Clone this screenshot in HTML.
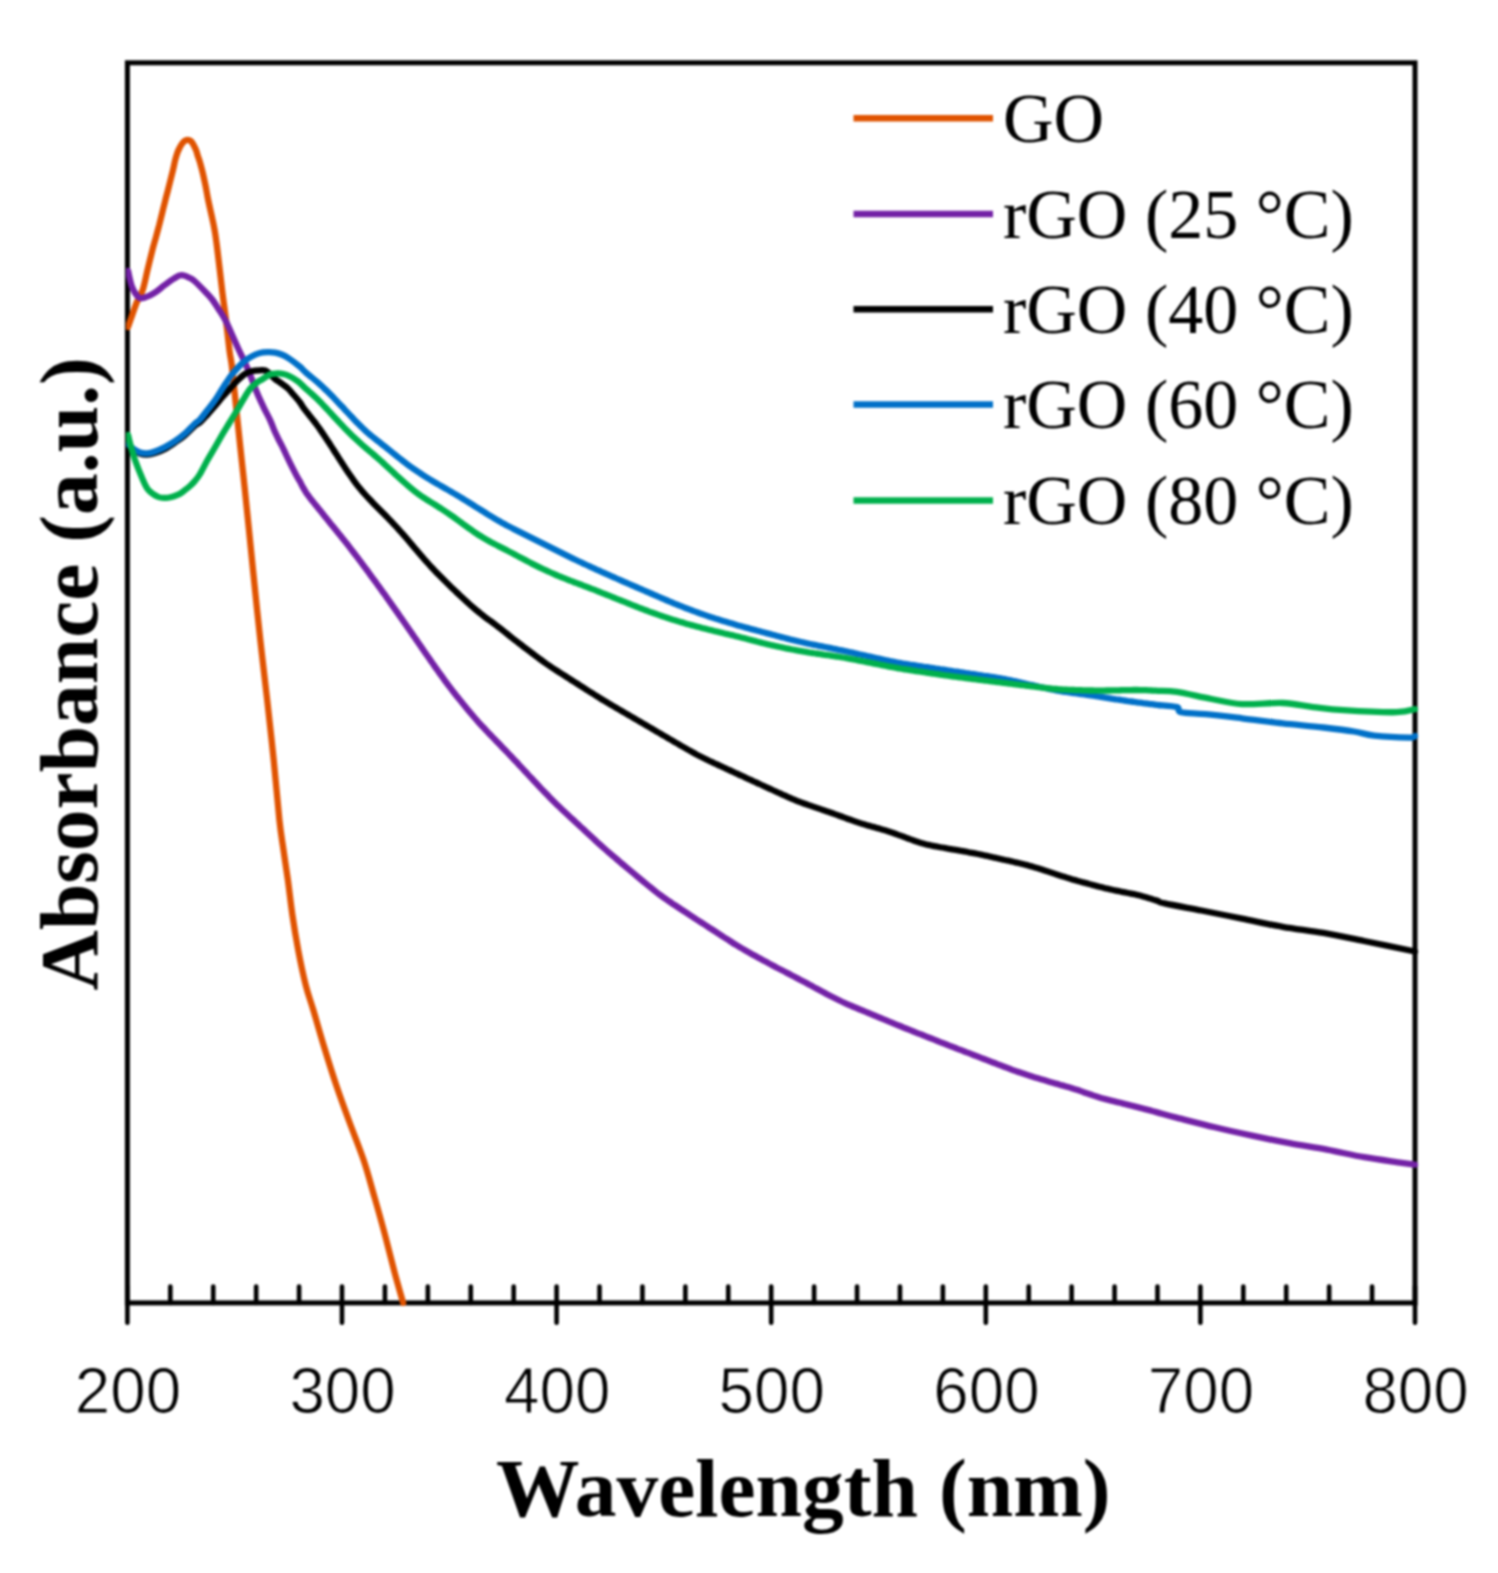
<!DOCTYPE html>
<html><head><meta charset="utf-8"><style>
html,body{margin:0;padding:0;background:#fff;}
body{width:1498px;height:1573px;overflow:hidden;}
svg{display:block;filter:blur(0.9px);}
</style></head><body>
<svg width="1498" height="1573" viewBox="0 0 1498 1573">
<rect x="0" y="0" width="1498" height="1573" fill="#fff"/>
<defs><clipPath id="pc"><rect x="126" y="60" width="1294" height="1246"/></clipPath></defs>
<g stroke="#000" fill="none">
<rect x="127.4" y="62.8" width="1287.6" height="1240.1000000000001" stroke-width="5.0"/>
</g>
<g stroke="#000" stroke-width="4.6" stroke-linecap="round" fill="none">
<line x1="127.40" y1="1286.5" x2="127.40" y2="1322.8" />
<line x1="170.32" y1="1286.5" x2="170.32" y2="1302.9" />
<line x1="213.24" y1="1286.5" x2="213.24" y2="1302.9" />
<line x1="256.16" y1="1286.5" x2="256.16" y2="1302.9" />
<line x1="299.08" y1="1286.5" x2="299.08" y2="1302.9" />
<line x1="342.00" y1="1286.5" x2="342.00" y2="1322.8" />
<line x1="384.92" y1="1286.5" x2="384.92" y2="1302.9" />
<line x1="427.84" y1="1286.5" x2="427.84" y2="1302.9" />
<line x1="470.76" y1="1286.5" x2="470.76" y2="1302.9" />
<line x1="513.68" y1="1286.5" x2="513.68" y2="1302.9" />
<line x1="556.60" y1="1286.5" x2="556.60" y2="1322.8" />
<line x1="599.52" y1="1286.5" x2="599.52" y2="1302.9" />
<line x1="642.44" y1="1286.5" x2="642.44" y2="1302.9" />
<line x1="685.36" y1="1286.5" x2="685.36" y2="1302.9" />
<line x1="728.28" y1="1286.5" x2="728.28" y2="1302.9" />
<line x1="771.20" y1="1286.5" x2="771.20" y2="1322.8" />
<line x1="814.12" y1="1286.5" x2="814.12" y2="1302.9" />
<line x1="857.04" y1="1286.5" x2="857.04" y2="1302.9" />
<line x1="899.96" y1="1286.5" x2="899.96" y2="1302.9" />
<line x1="942.88" y1="1286.5" x2="942.88" y2="1302.9" />
<line x1="985.80" y1="1286.5" x2="985.80" y2="1322.8" />
<line x1="1028.72" y1="1286.5" x2="1028.72" y2="1302.9" />
<line x1="1071.64" y1="1286.5" x2="1071.64" y2="1302.9" />
<line x1="1114.56" y1="1286.5" x2="1114.56" y2="1302.9" />
<line x1="1157.48" y1="1286.5" x2="1157.48" y2="1302.9" />
<line x1="1200.40" y1="1286.5" x2="1200.40" y2="1322.8" />
<line x1="1243.32" y1="1286.5" x2="1243.32" y2="1302.9" />
<line x1="1286.24" y1="1286.5" x2="1286.24" y2="1302.9" />
<line x1="1329.16" y1="1286.5" x2="1329.16" y2="1302.9" />
<line x1="1372.08" y1="1286.5" x2="1372.08" y2="1302.9" />
<line x1="1415.00" y1="1286.5" x2="1415.00" y2="1322.8" />
</g>
<g fill="none" stroke-width="6.3" stroke-linejoin="round" stroke-linecap="round" clip-path="url(#pc)">
<path d="M128.0,327.0 C128.5,325.6 129.6,322.5 131.0,318.5 C132.4,314.5 134.6,307.8 136.5,303.0 C138.4,298.2 140.9,295.5 142.7,290.0 C144.5,284.5 145.9,276.7 147.5,270.0 C149.1,263.3 151.0,255.5 152.4,250.0 C153.8,244.5 154.9,241.2 156.0,237.0 C157.1,232.8 158.1,229.1 159.2,225.0 C160.2,220.9 161.3,216.7 162.3,212.5 C163.3,208.3 164.5,203.8 165.4,200.0 C166.3,196.2 167.2,193.3 168.0,190.0 C168.8,186.7 169.7,183.3 170.5,180.0 C171.3,176.7 172.2,173.3 173.0,170.0 C173.8,166.7 174.5,162.8 175.2,160.0 C175.9,157.2 176.7,154.8 177.3,153.0 C177.9,151.2 178.3,150.4 179.0,149.0 C179.7,147.6 180.6,145.8 181.5,144.5 C182.4,143.2 183.2,142.0 184.2,141.2 C185.2,140.4 186.5,139.8 187.6,139.8 C188.7,139.8 189.8,140.2 190.8,141.0 C191.8,141.8 192.6,143.3 193.5,144.8 C194.4,146.3 195.2,148.1 196.0,150.0 C196.8,151.9 197.3,154.4 198.0,156.5 C198.7,158.6 199.2,159.6 200.0,162.5 C200.8,165.4 202.1,170.1 203.0,174.0 C203.9,177.9 204.7,181.7 205.6,186.0 C206.5,190.3 207.2,195.2 208.2,200.0 C209.2,204.8 210.4,210.0 211.5,215.0 C212.6,220.0 213.6,224.2 214.6,230.0 C215.6,235.8 216.2,240.0 217.4,250.0 C218.7,260.0 220.7,278.3 222.1,290.0 C223.5,301.7 224.8,310.0 226.0,320.0 C227.2,330.0 228.5,342.7 229.4,350.0 C230.3,357.3 230.8,357.9 231.6,364.0 C232.4,370.1 233.2,379.6 234.0,386.7 C234.8,393.8 235.3,399.6 236.1,406.8 C236.8,414.0 237.5,420.6 238.5,430.0 C239.5,439.4 240.9,453.0 242.0,463.0 C243.1,473.0 243.4,475.5 244.9,490.0 C246.4,504.5 249.0,530.0 251.0,550.0 C253.0,570.0 255.3,592.5 257.1,610.0 C258.9,627.5 260.3,640.0 262.0,655.0 C263.7,670.0 265.2,682.5 267.2,700.0 C269.1,717.5 271.7,740.0 273.7,760.0 C275.7,780.0 277.8,805.0 279.4,820.0 C281.0,835.0 282.1,840.0 283.5,850.0 C284.9,860.0 286.4,869.2 287.9,880.0 C289.4,890.8 290.7,903.3 292.4,915.0 C294.1,926.7 296.0,938.3 298.2,950.0 C300.4,961.7 303.2,975.0 305.7,985.0 C308.2,995.0 310.2,999.6 313.3,1010.0 C316.4,1020.4 320.5,1035.0 324.3,1047.5 C328.1,1060.0 332.0,1072.5 336.2,1085.0 C340.4,1097.5 345.0,1110.0 349.6,1122.5 C354.2,1135.0 359.4,1147.5 363.6,1160.0 C367.8,1172.5 371.0,1185.0 374.6,1197.5 C378.2,1210.0 381.7,1222.5 385.0,1235.0 C388.3,1247.5 391.6,1261.2 394.6,1272.5 C397.6,1283.8 401.8,1297.9 403.2,1303.0" stroke="#E05300"/>
<path d="M128.0,270.9 C128.7,273.6 130.4,282.7 132.0,286.9 C133.6,291.1 135.7,294.3 137.4,296.2 C139.1,298.1 139.3,298.6 142.0,298.2 C144.7,297.8 149.7,295.7 153.4,293.6 C157.1,291.5 160.7,288.1 164.0,285.6 C167.3,283.2 170.5,280.6 173.4,278.9 C176.3,277.2 178.5,275.3 181.4,275.2 C184.3,275.1 188.5,277.4 190.8,278.5 C193.1,279.6 192.6,279.3 195.0,281.5 C197.4,283.7 202.2,288.6 205.0,291.5 C207.8,294.4 209.6,296.1 211.8,299.0 C214.1,301.9 216.3,305.6 218.5,309.0 C220.7,312.4 222.8,315.4 225.0,319.5 C227.2,323.6 229.3,328.7 231.5,333.5 C233.7,338.3 236.1,344.0 238.2,348.5 C240.3,353.0 242.0,356.2 244.0,360.5 C246.0,364.8 247.9,369.2 250.0,374.5 C252.1,379.8 254.5,386.6 256.7,392.0 C258.9,397.4 261.2,402.1 263.4,406.8 C265.6,411.5 268.3,416.2 270.1,420.1 C271.9,424.0 272.8,427.0 274.1,430.0 C275.4,433.0 276.7,435.6 278.0,438.3 C279.3,441.0 280.7,443.3 282.0,446.0 C283.3,448.7 284.7,451.7 286.0,454.5 C287.3,457.3 288.0,458.8 290.0,462.8 C292.0,466.8 296.3,475.2 298.0,478.3 C299.7,481.4 299.2,480.1 300.0,481.6 C300.8,483.1 302.0,485.6 303.0,487.4 C304.0,489.2 305.0,490.8 306.0,492.4 C307.0,493.9 308.0,495.2 309.0,496.6 C310.0,497.9 311.0,499.2 312.0,500.5 C313.0,501.7 314.0,503.0 315.0,504.2 C316.0,505.4 317.0,506.7 318.0,507.9 C319.0,509.1 320.0,510.4 321.0,511.6 C322.0,512.9 323.0,514.1 324.0,515.4 C325.0,516.6 326.0,517.9 327.0,519.1 C328.0,520.4 329.0,521.6 330.0,522.9 C331.0,524.1 332.0,525.3 333.0,526.5 C334.0,527.8 335.0,529.0 336.0,530.2 C337.0,531.5 338.0,532.7 339.0,533.9 C340.0,535.2 341.0,536.4 342.0,537.7 C343.0,538.9 344.0,540.2 345.0,541.4 C346.0,542.7 347.0,543.9 348.0,545.2 C349.0,546.5 350.0,547.8 351.0,549.1 C352.0,550.4 353.0,551.7 354.0,553.0 C355.0,554.3 356.0,555.6 357.0,556.9 C358.0,558.2 359.0,559.6 360.0,560.9 C361.0,562.2 362.0,563.6 363.0,564.9 C364.0,566.3 365.0,567.6 366.0,568.9 C367.0,570.3 368.0,571.6 369.0,573.0 C370.0,574.4 371.0,575.7 372.0,577.1 C373.0,578.4 374.0,579.8 375.0,581.2 C376.0,582.6 377.0,583.9 378.0,585.3 C379.0,586.7 380.0,588.1 381.0,589.5 C382.0,590.9 383.0,592.2 384.0,593.6 C385.0,595.1 386.0,596.5 387.0,597.9 C388.0,599.3 389.0,600.7 390.0,602.1 C391.0,603.5 392.0,604.9 393.0,606.4 C394.0,607.8 395.0,609.2 396.0,610.7 C397.0,612.1 398.0,613.5 399.0,614.9 C400.0,616.4 401.0,617.8 402.0,619.2 C403.0,620.7 404.0,622.1 405.0,623.5 C406.0,625.0 407.0,626.4 408.0,627.8 C409.0,629.3 410.0,630.7 411.0,632.2 C412.0,633.6 413.0,635.1 414.0,636.5 C415.0,637.9 416.0,639.4 417.0,640.8 C418.0,642.3 419.0,643.7 420.0,645.2 C421.0,646.6 422.0,648.1 423.0,649.5 C424.0,651.0 425.0,652.4 426.0,653.9 C427.0,655.3 428.0,656.8 429.0,658.2 C430.0,659.6 431.0,661.1 432.0,662.5 C433.0,663.9 434.0,665.4 435.0,666.8 C436.0,668.2 437.0,669.6 438.0,671.0 C439.0,672.4 440.0,673.8 441.0,675.2 C442.0,676.6 443.0,678.0 444.0,679.3 C445.0,680.7 446.0,682.1 447.0,683.4 C448.0,684.8 449.0,686.1 450.0,687.4 C451.0,688.7 452.0,690.0 453.0,691.3 C454.0,692.6 455.0,693.9 456.0,695.2 C457.0,696.4 458.0,697.7 459.0,698.9 C460.0,700.2 461.0,701.4 462.0,702.6 C463.0,703.9 464.0,705.1 465.0,706.3 C466.0,707.5 467.0,708.7 468.0,709.9 C469.0,711.1 470.0,712.3 471.0,713.5 C472.0,714.7 473.0,715.8 474.0,717.0 C475.0,718.1 476.0,719.3 477.0,720.4 C478.0,721.6 479.0,722.7 480.0,723.8 C481.0,724.9 482.0,726.0 483.0,727.1 C484.0,728.1 485.0,729.2 486.0,730.3 C487.0,731.3 488.0,732.4 489.0,733.4 C490.0,734.5 491.0,735.5 492.0,736.5 C493.0,737.6 494.0,738.6 495.0,739.6 C496.0,740.7 497.0,741.7 498.0,742.7 C499.0,743.8 500.0,744.8 501.0,745.8 C502.0,746.9 503.0,747.9 504.0,748.9 C505.0,750.0 506.0,751.0 507.0,752.0 C508.0,753.1 509.0,754.1 510.0,755.2 C511.0,756.2 512.0,757.3 513.0,758.4 C514.0,759.4 515.0,760.5 516.0,761.6 C517.0,762.6 518.0,763.7 519.0,764.8 C520.0,765.9 521.0,766.9 522.0,768.0 C523.0,769.1 524.0,770.2 525.0,771.3 C526.0,772.3 527.0,773.4 528.0,774.5 C529.0,775.6 530.0,776.6 531.0,777.7 C532.0,778.8 533.0,779.9 534.0,780.9 C535.0,782.0 536.0,783.1 537.0,784.1 C538.0,785.2 539.0,786.3 540.0,787.3 C541.0,788.4 542.0,789.4 543.0,790.5 C544.0,791.5 545.0,792.5 546.0,793.6 C547.0,794.6 548.0,795.6 549.0,796.7 C550.0,797.7 551.0,798.7 552.0,799.7 C553.0,800.7 554.0,801.7 555.0,802.7 C556.0,803.7 557.0,804.7 558.0,805.7 C559.0,806.6 560.0,807.6 561.0,808.6 C562.0,809.5 563.0,810.5 564.0,811.4 C565.0,812.3 566.0,813.3 567.0,814.2 C568.0,815.1 569.0,816.0 570.0,817.0 C571.0,817.9 572.0,818.8 573.0,819.7 C574.0,820.6 575.0,821.6 576.0,822.5 C577.0,823.4 578.0,824.3 579.0,825.2 C580.0,826.2 581.0,827.1 582.0,828.0 C583.0,828.9 584.0,829.9 585.0,830.8 C586.0,831.7 587.0,832.7 588.0,833.6 C589.0,834.5 590.0,835.5 591.0,836.4 C592.0,837.3 593.0,838.3 594.0,839.2 C595.0,840.1 596.0,841.1 597.0,842.0 C598.0,842.9 599.0,843.8 600.0,844.7 C601.0,845.6 602.0,846.5 603.0,847.4 C604.0,848.2 605.0,849.1 606.0,850.0 C607.0,850.9 608.0,851.7 609.0,852.6 C610.0,853.5 611.0,854.3 612.0,855.2 C613.0,856.0 614.0,856.9 615.0,857.7 C616.0,858.6 617.0,859.4 618.0,860.3 C619.0,861.1 620.0,862.0 621.0,862.8 C622.0,863.7 623.0,864.5 624.0,865.3 C625.0,866.2 626.0,867.0 627.0,867.9 C628.0,868.7 629.0,869.6 630.0,870.4 C631.0,871.2 632.0,872.1 633.0,872.9 C634.0,873.7 635.0,874.6 636.0,875.4 C637.0,876.3 638.0,877.1 639.0,877.9 C640.0,878.8 641.0,879.6 642.0,880.4 C643.0,881.3 644.0,882.1 645.0,882.9 C646.0,883.7 647.0,884.6 648.0,885.4 C649.0,886.2 650.0,887.0 651.0,887.8 C652.0,888.6 653.0,889.5 654.0,890.2 C655.0,891.0 656.0,891.8 657.0,892.6 C658.0,893.4 659.0,894.1 660.0,894.9 C661.0,895.6 662.0,896.3 663.0,897.1 C664.0,897.8 665.0,898.5 666.0,899.2 C667.0,899.9 668.0,900.6 669.0,901.3 C670.0,901.9 671.0,902.6 672.0,903.3 C673.0,904.0 674.0,904.6 675.0,905.3 C676.0,905.9 677.0,906.6 678.0,907.3 C679.0,907.9 680.0,908.6 681.0,909.3 C682.0,909.9 683.0,910.6 684.0,911.2 C685.0,911.9 686.0,912.5 687.0,913.2 C688.0,913.9 689.0,914.5 690.0,915.2 C691.0,915.8 692.0,916.5 693.0,917.1 C694.0,917.8 695.0,918.4 696.0,919.1 C697.0,919.7 698.0,920.4 699.0,921.0 C700.0,921.7 701.0,922.3 702.0,923.0 C703.0,923.6 704.0,924.3 705.0,924.9 C706.0,925.5 707.0,926.2 708.0,926.8 C709.0,927.5 710.0,928.1 711.0,928.8 C712.0,929.4 713.0,930.1 714.0,930.7 C715.0,931.4 716.0,932.0 717.0,932.7 C718.0,933.3 719.0,934.0 720.0,934.6 C721.0,935.3 722.0,935.9 723.0,936.6 C724.0,937.2 725.0,937.8 726.0,938.5 C727.0,939.1 728.0,939.8 729.0,940.4 C730.0,941.1 731.0,941.7 732.0,942.3 C733.0,943.0 734.0,943.6 735.0,944.2 C736.0,944.8 737.0,945.5 738.0,946.1 C739.0,946.7 740.0,947.3 741.0,947.9 C742.0,948.5 743.0,949.1 744.0,949.6 C745.0,950.2 746.0,950.8 747.0,951.4 C748.0,951.9 749.0,952.5 750.0,953.1 C751.0,953.6 752.0,954.2 753.0,954.7 C754.0,955.3 755.0,955.8 756.0,956.4 C757.0,956.9 758.0,957.5 759.0,958.0 C760.0,958.6 761.0,959.1 762.0,959.7 C763.0,960.2 764.0,960.8 765.0,961.3 C766.0,961.8 767.0,962.4 768.0,962.9 C769.0,963.5 770.0,964.0 771.0,964.5 C772.0,965.1 773.0,965.6 774.0,966.1 C775.0,966.6 776.0,967.2 777.0,967.7 C778.0,968.2 779.0,968.7 780.0,969.3 C781.0,969.8 782.0,970.3 783.0,970.8 C784.0,971.3 785.0,971.8 786.0,972.4 C787.0,972.9 788.0,973.4 789.0,973.9 C790.0,974.4 791.0,975.0 792.0,975.5 C793.0,976.0 794.0,976.5 795.0,977.0 C796.0,977.6 797.0,978.1 798.0,978.6 C799.0,979.1 800.0,979.7 801.0,980.2 C802.0,980.7 803.0,981.3 804.0,981.8 C805.0,982.3 806.0,982.9 807.0,983.4 C808.0,983.9 809.0,984.5 810.0,985.0 C811.0,985.5 812.0,986.1 813.0,986.6 C814.0,987.2 815.0,987.7 816.0,988.2 C817.0,988.8 818.0,989.3 819.0,989.9 C820.0,990.4 821.0,990.9 822.0,991.5 C823.0,992.0 824.0,992.6 825.0,993.1 C826.0,993.6 827.0,994.2 828.0,994.7 C829.0,995.2 830.0,995.8 831.0,996.3 C832.0,996.8 833.0,997.3 834.0,997.8 C835.0,998.3 836.0,998.8 837.0,999.3 C838.0,999.8 839.0,1000.3 840.0,1000.8 C841.0,1001.3 842.0,1001.7 843.0,1002.2 C844.0,1002.7 845.0,1003.1 846.0,1003.6 C847.0,1004.0 848.0,1004.4 849.0,1004.9 C850.0,1005.3 851.0,1005.7 852.0,1006.1 C853.0,1006.6 854.0,1007.0 855.0,1007.4 C856.0,1007.8 857.0,1008.2 858.0,1008.6 C859.0,1009.1 860.0,1009.5 861.0,1009.9 C862.0,1010.3 863.0,1010.7 864.0,1011.1 C865.0,1011.5 866.0,1012.0 867.0,1012.4 C868.0,1012.8 869.0,1013.2 870.0,1013.6 C871.0,1014.0 872.0,1014.4 873.0,1014.9 C874.0,1015.3 875.0,1015.7 876.0,1016.1 C877.0,1016.5 878.0,1016.9 879.0,1017.4 C880.0,1017.8 881.0,1018.2 882.0,1018.6 C883.0,1019.0 884.0,1019.4 885.0,1019.8 C886.0,1020.3 887.0,1020.7 888.0,1021.1 C889.0,1021.5 890.0,1021.9 891.0,1022.3 C892.0,1022.8 893.0,1023.2 894.0,1023.6 C895.0,1024.0 896.0,1024.4 897.0,1024.8 C898.0,1025.2 899.0,1025.6 900.0,1026.0 C901.0,1026.4 902.0,1026.9 903.0,1027.3 C904.0,1027.7 905.0,1028.1 906.0,1028.5 C907.0,1028.9 908.0,1029.3 909.0,1029.7 C910.0,1030.1 911.0,1030.5 912.0,1030.9 C913.0,1031.3 914.0,1031.7 915.0,1032.1 C916.0,1032.5 917.0,1032.9 918.0,1033.3 C919.0,1033.7 920.0,1034.0 921.0,1034.4 C922.0,1034.8 923.0,1035.2 924.0,1035.6 C925.0,1036.0 926.0,1036.4 927.0,1036.8 C928.0,1037.2 929.0,1037.6 930.0,1038.0 C931.0,1038.4 932.0,1038.8 933.0,1039.2 C934.0,1039.6 935.0,1040.0 936.0,1040.4 C937.0,1040.8 938.0,1041.2 939.0,1041.6 C940.0,1042.0 941.0,1042.4 942.0,1042.8 C943.0,1043.1 944.0,1043.5 945.0,1043.9 C946.0,1044.3 947.0,1044.7 948.0,1045.1 C949.0,1045.5 950.0,1045.9 951.0,1046.3 C952.0,1046.6 953.0,1047.0 954.0,1047.4 C955.0,1047.8 956.0,1048.2 957.0,1048.6 C958.0,1049.0 959.0,1049.4 960.0,1049.7 C961.0,1050.1 962.0,1050.5 963.0,1050.9 C964.0,1051.3 965.0,1051.7 966.0,1052.1 C967.0,1052.5 968.0,1052.8 969.0,1053.2 C970.0,1053.6 971.0,1054.0 972.0,1054.4 C973.0,1054.8 974.0,1055.2 975.0,1055.6 C976.0,1055.9 977.0,1056.3 978.0,1056.7 C979.0,1057.1 980.0,1057.5 981.0,1057.9 C982.0,1058.3 983.0,1058.6 984.0,1059.0 C985.0,1059.4 986.0,1059.8 987.0,1060.2 C988.0,1060.6 989.0,1060.9 990.0,1061.3 C991.0,1061.7 992.0,1062.1 993.0,1062.5 C994.0,1062.9 995.0,1063.2 996.0,1063.6 C997.0,1064.0 998.0,1064.4 999.0,1064.8 C1000.0,1065.1 1001.0,1065.5 1002.0,1065.9 C1003.0,1066.3 1004.0,1066.7 1005.0,1067.1 C1006.0,1067.4 1007.0,1067.8 1008.0,1068.2 C1009.0,1068.6 1010.0,1068.9 1011.0,1069.3 C1012.0,1069.7 1013.0,1070.1 1014.0,1070.4 C1015.0,1070.8 1016.0,1071.2 1017.0,1071.5 C1018.0,1071.9 1019.0,1072.2 1020.0,1072.6 C1021.0,1072.9 1022.0,1073.2 1023.0,1073.6 C1024.0,1073.9 1025.0,1074.2 1026.0,1074.6 C1027.0,1074.9 1028.0,1075.2 1029.0,1075.5 C1030.0,1075.8 1031.0,1076.2 1032.0,1076.5 C1033.0,1076.8 1034.0,1077.1 1035.0,1077.4 C1036.0,1077.7 1037.0,1078.0 1038.0,1078.3 C1039.0,1078.6 1040.0,1078.9 1041.0,1079.2 C1042.0,1079.5 1043.0,1079.8 1044.0,1080.1 C1045.0,1080.4 1046.0,1080.7 1047.0,1081.0 C1048.0,1081.3 1049.0,1081.6 1050.0,1081.9 C1051.0,1082.2 1052.0,1082.5 1053.0,1082.8 C1054.0,1083.1 1055.0,1083.4 1056.0,1083.7 C1057.0,1083.9 1058.0,1084.2 1059.0,1084.5 C1060.0,1084.8 1061.0,1085.1 1062.0,1085.4 C1063.0,1085.6 1064.0,1085.9 1065.0,1086.2 C1066.0,1086.5 1067.0,1086.8 1068.0,1087.1 C1069.0,1087.4 1070.0,1087.7 1071.0,1087.9 C1072.0,1088.2 1073.0,1088.5 1074.0,1088.9 C1075.0,1089.2 1076.0,1089.5 1077.0,1089.8 C1078.0,1090.1 1079.0,1090.5 1080.0,1090.8 C1081.0,1091.2 1082.0,1091.5 1083.0,1091.9 C1084.0,1092.2 1085.0,1092.6 1086.0,1093.0 C1087.0,1093.3 1088.0,1093.7 1089.0,1094.0 C1090.0,1094.4 1091.0,1094.7 1092.0,1095.1 C1093.0,1095.4 1094.0,1095.8 1095.0,1096.1 C1096.0,1096.4 1097.0,1096.7 1098.0,1097.0 C1099.0,1097.3 1100.0,1097.6 1101.0,1097.9 C1102.0,1098.2 1103.0,1098.5 1104.0,1098.7 C1105.0,1099.0 1106.0,1099.2 1107.0,1099.5 C1108.0,1099.8 1109.0,1100.0 1110.0,1100.3 C1111.0,1100.5 1112.0,1100.8 1113.0,1101.0 C1114.0,1101.3 1115.0,1101.5 1116.0,1101.8 C1117.0,1102.0 1118.0,1102.3 1119.0,1102.5 C1120.0,1102.8 1121.0,1103.0 1122.0,1103.2 C1123.0,1103.5 1124.0,1103.7 1125.0,1104.0 C1126.0,1104.2 1127.0,1104.5 1128.0,1104.7 C1129.0,1105.0 1130.0,1105.2 1131.0,1105.5 C1132.0,1105.7 1133.0,1106.0 1134.0,1106.2 C1135.0,1106.5 1136.0,1106.7 1137.0,1107.0 C1138.0,1107.3 1139.0,1107.5 1140.0,1107.8 C1141.0,1108.0 1142.0,1108.3 1143.0,1108.6 C1144.0,1108.8 1145.0,1109.1 1146.0,1109.4 C1147.0,1109.6 1148.0,1109.9 1149.0,1110.2 C1150.0,1110.4 1151.0,1110.7 1152.0,1111.0 C1153.0,1111.2 1154.0,1111.5 1155.0,1111.8 C1156.0,1112.1 1154.3,1111.6 1158.0,1112.6 C1161.7,1113.6 1167.9,1115.5 1177.4,1117.9 C1186.9,1120.3 1202.3,1124.3 1214.8,1127.3 C1227.2,1130.3 1239.6,1133.0 1252.1,1135.7 C1264.5,1138.4 1277.0,1140.9 1289.5,1143.2 C1302.0,1145.5 1314.4,1147.4 1326.9,1149.7 C1339.4,1152.0 1351.8,1155.0 1364.3,1157.2 C1376.8,1159.4 1393.2,1161.5 1401.7,1162.8 C1410.2,1164.0 1412.8,1164.4 1415.0,1164.7" stroke="#7321A6"/>
<path d="M128.0,446.0 C128.8,446.6 131.0,448.2 133.0,449.5 C135.0,450.8 137.7,452.7 140.0,453.5 C142.3,454.3 144.5,454.6 147.0,454.5 C149.5,454.4 152.0,453.9 155.0,453.0 C158.0,452.1 161.7,450.8 165.0,449.0 C168.3,447.2 171.7,444.8 175.0,442.5 C178.3,440.2 181.8,437.8 185.1,435.0 C188.4,432.2 192.5,427.6 195.0,425.5 C197.5,423.4 197.9,424.2 200.0,422.4 C202.1,420.6 205.0,417.2 207.5,414.5 C210.0,411.8 212.5,408.9 215.0,406.0 C217.5,403.1 220.0,399.9 222.5,397.0 C225.0,394.1 227.5,391.2 230.0,388.5 C232.5,385.8 235.0,382.9 237.5,380.5 C240.0,378.1 242.5,375.6 245.0,374.0 C247.5,372.4 250.0,371.6 252.5,371.0 C255.0,370.4 257.9,370.4 260.0,370.3 C262.1,370.2 263.7,369.9 265.4,370.5 C267.1,371.1 268.4,372.6 270.0,374.0 C271.6,375.4 273.3,377.6 275.0,379.0 C276.7,380.4 277.8,380.8 280.0,382.4 C282.2,384.0 285.7,386.4 288.0,388.5 C290.3,390.6 292.0,393.0 294.0,395.3 C296.0,397.6 298.5,400.5 300.0,402.5 C301.5,404.5 302.0,405.6 303.0,407.1 C304.0,408.5 305.0,409.8 306.0,411.1 C307.0,412.4 308.0,413.6 309.0,414.9 C310.0,416.1 311.0,417.4 312.0,418.7 C313.0,419.9 314.0,421.2 315.0,422.5 C316.0,423.8 317.0,425.2 318.0,426.5 C319.0,427.9 320.0,429.4 321.0,430.8 C322.0,432.2 323.0,433.7 324.0,435.2 C325.0,436.7 326.0,438.2 327.0,439.7 C328.0,441.2 329.0,442.8 330.0,444.3 C331.0,445.9 332.0,447.4 333.0,449.0 C334.0,450.6 335.0,452.2 336.0,453.7 C337.0,455.3 338.0,456.9 339.0,458.4 C340.0,460.0 341.0,461.6 342.0,463.1 C343.0,464.6 344.0,466.2 345.0,467.7 C346.0,469.2 347.0,470.7 348.0,472.2 C349.0,473.7 350.0,475.1 351.0,476.5 C352.0,478.0 353.0,479.4 354.0,480.8 C355.0,482.1 356.0,483.5 357.0,484.8 C358.0,486.1 359.0,487.4 360.0,488.6 C361.0,489.8 362.0,491.0 363.0,492.2 C364.0,493.3 365.0,494.4 366.0,495.5 C367.0,496.6 368.0,497.7 369.0,498.7 C370.0,499.8 371.0,500.8 372.0,501.8 C373.0,502.9 374.0,503.9 375.0,504.9 C376.0,505.9 377.0,506.9 378.0,507.9 C379.0,508.9 380.0,509.9 381.0,510.9 C382.0,511.9 383.0,512.9 384.0,513.9 C385.0,515.0 386.0,516.0 387.0,517.0 C388.0,518.0 389.0,519.1 390.0,520.1 C391.0,521.2 392.0,522.2 393.0,523.3 C394.0,524.4 395.0,525.4 396.0,526.5 C397.0,527.6 398.0,528.7 399.0,529.8 C400.0,530.9 401.0,532.1 402.0,533.2 C403.0,534.3 404.0,535.5 405.0,536.6 C406.0,537.8 407.0,539.0 408.0,540.1 C409.0,541.3 410.0,542.5 411.0,543.7 C412.0,544.8 413.0,546.0 414.0,547.2 C415.0,548.4 416.0,549.6 417.0,550.7 C418.0,551.9 419.0,553.1 420.0,554.2 C421.0,555.4 422.0,556.6 423.0,557.7 C424.0,558.9 425.0,560.0 426.0,561.1 C427.0,562.2 428.0,563.4 429.0,564.5 C430.0,565.6 431.0,566.7 432.0,567.8 C433.0,568.8 434.0,569.9 435.0,571.0 C436.0,572.0 437.0,573.0 438.0,574.1 C439.0,575.1 440.0,576.1 441.0,577.1 C442.0,578.1 443.0,579.1 444.0,580.1 C445.0,581.1 446.0,582.1 447.0,583.0 C448.0,584.0 449.0,585.0 450.0,585.9 C451.0,586.9 452.0,587.9 453.0,588.8 C454.0,589.8 455.0,590.8 456.0,591.7 C457.0,592.7 458.0,593.6 459.0,594.6 C460.0,595.5 461.0,596.5 462.0,597.4 C463.0,598.3 464.0,599.3 465.0,600.2 C466.0,601.1 467.0,602.0 468.0,602.9 C469.0,603.8 470.0,604.7 471.0,605.6 C472.0,606.5 473.0,607.3 474.0,608.2 C475.0,609.1 476.0,609.9 477.0,610.7 C478.0,611.5 479.0,612.4 480.0,613.1 C481.0,613.9 482.0,614.7 483.0,615.5 C484.0,616.3 485.0,617.0 486.0,617.8 C487.0,618.5 488.0,619.3 489.0,620.0 C490.0,620.7 491.0,621.5 492.0,622.2 C493.0,622.9 494.0,623.7 495.0,624.4 C496.0,625.2 497.0,625.9 498.0,626.7 C499.0,627.5 500.0,628.2 501.0,629.0 C502.0,629.8 503.0,630.6 504.0,631.4 C505.0,632.2 506.0,633.0 507.0,633.8 C508.0,634.6 509.0,635.4 510.0,636.2 C511.0,637.0 512.0,637.8 513.0,638.6 C514.0,639.4 515.0,640.1 516.0,640.9 C517.0,641.7 518.0,642.4 519.0,643.2 C520.0,644.0 521.0,644.7 522.0,645.5 C523.0,646.3 524.0,647.0 525.0,647.8 C526.0,648.5 527.0,649.3 528.0,650.1 C529.0,650.8 530.0,651.6 531.0,652.4 C532.0,653.1 533.0,653.9 534.0,654.6 C535.0,655.4 536.0,656.2 537.0,656.9 C538.0,657.7 539.0,658.4 540.0,659.2 C541.0,659.9 542.0,660.6 543.0,661.4 C544.0,662.1 545.0,662.8 546.0,663.5 C547.0,664.2 548.0,664.9 549.0,665.5 C550.0,666.2 551.0,666.9 552.0,667.6 C553.0,668.2 554.0,668.9 555.0,669.5 C556.0,670.2 557.0,670.8 558.0,671.5 C559.0,672.1 560.0,672.7 561.0,673.4 C562.0,674.0 563.0,674.7 564.0,675.3 C565.0,675.9 566.0,676.6 567.0,677.2 C568.0,677.8 569.0,678.5 570.0,679.1 C571.0,679.8 572.0,680.4 573.0,681.0 C574.0,681.7 575.0,682.3 576.0,682.9 C577.0,683.6 578.0,684.2 579.0,684.8 C580.0,685.5 581.0,686.1 582.0,686.8 C583.0,687.4 584.0,688.0 585.0,688.7 C586.0,689.3 587.0,689.9 588.0,690.6 C589.0,691.2 590.0,691.9 591.0,692.5 C592.0,693.1 593.0,693.8 594.0,694.4 C595.0,695.0 596.0,695.7 597.0,696.3 C598.0,696.9 599.0,697.5 600.0,698.1 C601.0,698.8 602.0,699.4 603.0,700.0 C604.0,700.6 605.0,701.2 606.0,701.8 C607.0,702.4 608.0,703.0 609.0,703.6 C610.0,704.2 611.0,704.8 612.0,705.4 C613.0,706.0 614.0,706.6 615.0,707.1 C616.0,707.7 617.0,708.3 618.0,708.9 C619.0,709.5 620.0,710.1 621.0,710.6 C622.0,711.2 623.0,711.8 624.0,712.4 C625.0,713.0 626.0,713.6 627.0,714.1 C628.0,714.7 629.0,715.3 630.0,715.9 C631.0,716.5 632.0,717.1 633.0,717.6 C634.0,718.2 635.0,718.8 636.0,719.4 C637.0,720.0 638.0,720.6 639.0,721.1 C640.0,721.7 641.0,722.3 642.0,722.9 C643.0,723.5 644.0,724.1 645.0,724.6 C646.0,725.2 647.0,725.8 648.0,726.4 C649.0,727.0 650.0,727.6 651.0,728.1 C652.0,728.7 653.0,729.3 654.0,729.9 C655.0,730.5 656.0,731.1 657.0,731.7 C658.0,732.2 659.0,732.8 660.0,733.4 C661.0,734.0 662.0,734.6 663.0,735.2 C664.0,735.7 665.0,736.3 666.0,736.9 C667.0,737.5 668.0,738.1 669.0,738.7 C670.0,739.2 671.0,739.8 672.0,740.4 C673.0,741.0 674.0,741.6 675.0,742.2 C676.0,742.7 677.0,743.3 678.0,743.9 C679.0,744.5 680.0,745.1 681.0,745.7 C682.0,746.2 683.0,746.8 684.0,747.4 C685.0,748.0 686.0,748.6 687.0,749.1 C688.0,749.7 689.0,750.3 690.0,750.8 C691.0,751.4 692.0,752.0 693.0,752.5 C694.0,753.1 695.0,753.6 696.0,754.2 C697.0,754.7 698.0,755.2 699.0,755.8 C700.0,756.3 701.0,756.8 702.0,757.3 C703.0,757.8 704.0,758.3 705.0,758.8 C706.0,759.3 707.0,759.8 708.0,760.2 C709.0,760.7 710.0,761.2 711.0,761.7 C712.0,762.1 713.0,762.6 714.0,763.1 C715.0,763.5 716.0,764.0 717.0,764.4 C718.0,764.9 719.0,765.4 720.0,765.8 C721.0,766.3 722.0,766.8 723.0,767.2 C724.0,767.7 725.0,768.1 726.0,768.6 C727.0,769.1 728.0,769.5 729.0,770.0 C730.0,770.4 731.0,770.9 732.0,771.4 C733.0,771.8 734.0,772.3 735.0,772.8 C736.0,773.2 737.0,773.7 738.0,774.1 C739.0,774.6 740.0,775.1 741.0,775.5 C742.0,776.0 743.0,776.4 744.0,776.9 C745.0,777.4 746.0,777.8 747.0,778.3 C748.0,778.7 749.0,779.2 750.0,779.7 C751.0,780.1 752.0,780.6 753.0,781.1 C754.0,781.5 755.0,782.0 756.0,782.4 C757.0,782.9 758.0,783.4 759.0,783.8 C760.0,784.3 761.0,784.7 762.0,785.2 C763.0,785.7 764.0,786.1 765.0,786.6 C766.0,787.0 767.0,787.5 768.0,788.0 C769.0,788.4 770.0,788.9 771.0,789.3 C772.0,789.8 773.0,790.2 774.0,790.7 C775.0,791.2 776.0,791.6 777.0,792.1 C778.0,792.5 779.0,793.0 780.0,793.4 C781.0,793.9 782.0,794.3 783.0,794.8 C784.0,795.2 785.0,795.7 786.0,796.1 C787.0,796.6 788.0,797.0 789.0,797.5 C790.0,797.9 791.0,798.4 792.0,798.8 C793.0,799.2 794.0,799.6 795.0,800.0 C796.0,800.5 797.0,800.9 798.0,801.3 C799.0,801.6 800.0,802.0 801.0,802.4 C802.0,802.8 803.0,803.1 804.0,803.5 C805.0,803.9 806.0,804.2 807.0,804.6 C808.0,804.9 809.0,805.3 810.0,805.6 C811.0,805.9 812.0,806.3 813.0,806.6 C814.0,807.0 815.0,807.3 816.0,807.6 C817.0,808.0 818.0,808.3 819.0,808.6 C820.0,809.0 821.0,809.3 822.0,809.7 C823.0,810.0 824.0,810.3 825.0,810.7 C826.0,811.0 827.0,811.4 828.0,811.7 C829.0,812.1 830.0,812.4 831.0,812.8 C832.0,813.1 833.0,813.5 834.0,813.8 C835.0,814.2 836.0,814.5 837.0,814.9 C838.0,815.3 839.0,815.6 840.0,816.0 C841.0,816.4 842.0,816.7 843.0,817.1 C844.0,817.5 845.0,817.8 846.0,818.2 C847.0,818.5 848.0,818.9 849.0,819.3 C850.0,819.6 851.0,820.0 852.0,820.3 C853.0,820.7 854.0,821.0 855.0,821.4 C856.0,821.7 857.0,822.1 858.0,822.4 C859.0,822.7 860.0,823.1 861.0,823.4 C862.0,823.7 863.0,824.0 864.0,824.3 C865.0,824.6 866.0,824.9 867.0,825.2 C868.0,825.5 869.0,825.7 870.0,826.0 C871.0,826.3 872.0,826.6 873.0,826.9 C874.0,827.1 875.0,827.4 876.0,827.7 C877.0,828.0 878.0,828.2 879.0,828.5 C880.0,828.8 881.0,829.1 882.0,829.4 C883.0,829.7 884.0,830.0 885.0,830.3 C886.0,830.6 887.0,830.9 888.0,831.2 C889.0,831.5 890.0,831.9 891.0,832.2 C892.0,832.5 893.0,832.9 894.0,833.2 C895.0,833.6 896.0,834.0 897.0,834.3 C898.0,834.7 899.0,835.1 900.0,835.4 C901.0,835.8 902.0,836.2 903.0,836.5 C904.0,836.9 905.0,837.3 906.0,837.7 C907.0,838.0 908.0,838.4 909.0,838.8 C910.0,839.2 911.0,839.5 912.0,839.9 C913.0,840.3 914.0,840.6 915.0,841.0 C916.0,841.3 917.0,841.7 918.0,842.0 C919.0,842.3 920.0,842.6 921.0,842.9 C922.0,843.2 923.0,843.5 924.0,843.8 C925.0,844.1 926.0,844.3 927.0,844.6 C928.0,844.8 929.0,845.0 930.0,845.2 C931.0,845.5 932.0,845.7 933.0,845.9 C934.0,846.1 935.0,846.2 936.0,846.4 C937.0,846.6 938.0,846.8 939.0,847.0 C940.0,847.2 941.0,847.3 942.0,847.5 C943.0,847.7 944.0,847.9 945.0,848.0 C946.0,848.2 947.0,848.4 948.0,848.6 C949.0,848.7 950.0,848.9 951.0,849.1 C952.0,849.3 953.0,849.4 954.0,849.6 C955.0,849.8 956.0,850.0 957.0,850.1 C958.0,850.3 959.0,850.5 960.0,850.7 C961.0,850.8 962.0,851.0 963.0,851.2 C964.0,851.4 965.0,851.5 966.0,851.7 C967.0,851.9 968.0,852.1 969.0,852.3 C970.0,852.4 971.0,852.6 972.0,852.8 C973.0,853.0 974.0,853.2 975.0,853.4 C976.0,853.6 977.0,853.8 978.0,854.0 C979.0,854.2 980.0,854.4 981.0,854.6 C982.0,854.8 983.0,855.0 984.0,855.3 C985.0,855.5 986.0,855.7 987.0,855.9 C988.0,856.1 989.0,856.4 990.0,856.6 C991.0,856.8 992.0,857.0 993.0,857.3 C994.0,857.5 995.0,857.7 996.0,857.9 C997.0,858.2 998.0,858.4 999.0,858.6 C1000.0,858.8 1001.0,859.1 1002.0,859.3 C1003.0,859.5 1004.0,859.7 1005.0,860.0 C1006.0,860.2 1007.0,860.4 1008.0,860.6 C1009.0,860.9 1010.0,861.1 1011.0,861.3 C1012.0,861.6 1013.0,861.8 1014.0,862.0 C1015.0,862.2 1016.0,862.5 1017.0,862.7 C1018.0,862.9 1019.0,863.2 1020.0,863.4 C1021.0,863.6 1022.0,863.9 1023.0,864.1 C1024.0,864.4 1025.0,864.6 1026.0,864.9 C1027.0,865.1 1028.0,865.4 1029.0,865.7 C1030.0,866.0 1031.0,866.2 1032.0,866.5 C1033.0,866.8 1034.0,867.1 1035.0,867.4 C1036.0,867.7 1037.0,868.0 1038.0,868.3 C1039.0,868.6 1040.0,869.0 1041.0,869.3 C1042.0,869.6 1043.0,869.9 1044.0,870.3 C1045.0,870.6 1046.0,870.9 1047.0,871.2 C1048.0,871.6 1049.0,871.9 1050.0,872.2 C1051.0,872.6 1052.0,872.9 1053.0,873.2 C1054.0,873.6 1055.0,873.9 1056.0,874.2 C1057.0,874.5 1058.0,874.9 1059.0,875.2 C1060.0,875.5 1061.0,875.9 1062.0,876.2 C1063.0,876.5 1064.0,876.8 1065.0,877.1 C1066.0,877.4 1067.0,877.8 1068.0,878.1 C1069.0,878.4 1070.0,878.7 1071.0,879.0 C1072.0,879.3 1073.0,879.6 1074.0,879.9 C1075.0,880.1 1076.0,880.4 1077.0,880.7 C1078.0,881.0 1079.0,881.3 1080.0,881.5 C1081.0,881.8 1082.0,882.1 1083.0,882.4 C1084.0,882.6 1085.0,882.9 1086.0,883.2 C1087.0,883.4 1088.0,883.7 1089.0,884.0 C1090.0,884.2 1091.0,884.5 1092.0,884.8 C1093.0,885.0 1094.0,885.3 1095.0,885.6 C1096.0,885.8 1097.0,886.1 1098.0,886.4 C1099.0,886.6 1100.0,886.9 1101.0,887.1 C1102.0,887.4 1103.0,887.7 1104.0,887.9 C1105.0,888.2 1106.0,888.4 1107.0,888.6 C1108.0,888.9 1109.0,889.1 1110.0,889.3 C1111.0,889.6 1112.0,889.8 1113.0,890.0 C1114.0,890.2 1115.0,890.4 1116.0,890.6 C1117.0,890.8 1118.0,891.0 1119.0,891.2 C1120.0,891.4 1121.0,891.6 1122.0,891.8 C1123.0,892.0 1124.0,892.2 1125.0,892.4 C1126.0,892.6 1127.0,892.8 1128.0,893.0 C1129.0,893.2 1130.0,893.4 1131.0,893.6 C1132.0,893.8 1133.0,894.0 1134.0,894.2 C1135.0,894.4 1136.0,894.6 1137.0,894.9 C1138.0,895.1 1139.0,895.3 1140.0,895.6 C1141.0,895.9 1142.0,896.1 1143.0,896.4 C1144.0,896.7 1145.0,897.0 1146.0,897.3 C1147.0,897.6 1148.0,897.9 1149.0,898.2 C1150.0,898.5 1151.0,898.8 1152.0,899.1 C1153.0,899.5 1154.0,899.8 1155.0,900.1 C1156.0,900.4 1156.4,900.5 1158.0,901.0 C1159.6,901.6 1157.5,901.8 1164.7,903.4 C1171.9,905.0 1188.5,908.0 1201.4,910.5 C1214.3,913.0 1228.5,915.9 1242.0,918.6 C1255.5,921.3 1269.1,924.4 1282.7,926.8 C1296.3,929.2 1309.9,930.5 1323.4,932.9 C1337.0,935.3 1348.7,937.9 1364.0,941.0 C1379.3,944.1 1406.5,949.8 1415.0,951.5" stroke="#000000"/>
<path d="M128.0,444.0 C128.8,444.8 131.0,447.1 133.0,448.5 C135.0,449.9 137.7,451.7 140.0,452.5 C142.3,453.3 144.5,453.6 147.0,453.4 C149.5,453.2 152.0,452.6 155.0,451.5 C158.0,450.4 161.7,448.8 165.0,447.1 C168.3,445.4 171.7,443.5 175.0,441.2 C178.3,438.9 181.8,436.3 185.1,433.4 C188.4,430.4 192.5,425.8 195.0,423.5 C197.5,421.2 197.9,421.8 200.0,419.5 C202.1,417.2 205.0,413.2 207.5,410.0 C210.0,406.8 212.5,403.9 215.0,400.3 C217.5,396.7 220.0,392.4 222.5,388.5 C225.0,384.6 227.5,380.4 230.0,377.0 C232.5,373.6 235.0,370.7 237.5,368.0 C240.0,365.3 242.5,362.8 245.0,360.8 C247.5,358.8 250.0,357.3 252.5,356.0 C255.0,354.7 257.5,353.6 260.0,353.0 C262.5,352.4 265.0,352.3 267.5,352.2 C270.0,352.1 272.7,352.2 275.0,352.6 C277.3,353.0 279.3,353.6 281.5,354.5 C283.7,355.4 284.9,355.8 288.0,357.8 C291.1,359.8 297.5,364.7 300.0,366.7 C302.5,368.7 302.0,368.8 303.0,369.8 C304.0,370.8 305.0,371.7 306.0,372.6 C307.0,373.5 308.0,374.3 309.0,375.1 C310.0,376.0 311.0,376.8 312.0,377.6 C313.0,378.4 314.0,379.2 315.0,380.1 C316.0,380.9 317.0,381.8 318.0,382.7 C319.0,383.6 320.0,384.5 321.0,385.4 C322.0,386.3 323.0,387.3 324.0,388.2 C325.0,389.2 326.0,390.1 327.0,391.1 C328.0,392.1 329.0,393.1 330.0,394.1 C331.0,395.1 332.0,396.1 333.0,397.1 C334.0,398.1 335.0,399.2 336.0,400.2 C337.0,401.3 338.0,402.3 339.0,403.4 C340.0,404.4 341.0,405.5 342.0,406.6 C343.0,407.6 344.0,408.7 345.0,409.8 C346.0,410.9 347.0,411.9 348.0,413.0 C349.0,414.1 350.0,415.2 351.0,416.2 C352.0,417.3 353.0,418.4 354.0,419.4 C355.0,420.5 356.0,421.5 357.0,422.6 C358.0,423.6 359.0,424.6 360.0,425.6 C361.0,426.6 362.0,427.5 363.0,428.5 C364.0,429.4 365.0,430.4 366.0,431.3 C367.0,432.2 368.0,433.0 369.0,433.9 C370.0,434.8 371.0,435.6 372.0,436.4 C373.0,437.2 374.0,438.0 375.0,438.8 C376.0,439.6 377.0,440.4 378.0,441.2 C379.0,441.9 380.0,442.7 381.0,443.5 C382.0,444.3 383.0,445.1 384.0,445.9 C385.0,446.6 386.0,447.4 387.0,448.2 C388.0,449.0 389.0,449.8 390.0,450.6 C391.0,451.4 392.0,452.3 393.0,453.1 C394.0,453.9 395.0,454.7 396.0,455.5 C397.0,456.3 398.0,457.1 399.0,457.9 C400.0,458.7 401.0,459.5 402.0,460.2 C403.0,461.0 404.0,461.8 405.0,462.5 C406.0,463.3 407.0,464.0 408.0,464.8 C409.0,465.5 410.0,466.3 411.0,467.0 C412.0,467.7 413.0,468.4 414.0,469.1 C415.0,469.8 416.0,470.5 417.0,471.2 C418.0,471.9 419.0,472.5 420.0,473.2 C421.0,473.9 422.0,474.5 423.0,475.1 C424.0,475.8 425.0,476.4 426.0,477.1 C427.0,477.7 428.0,478.3 429.0,478.9 C430.0,479.5 431.0,480.1 432.0,480.7 C433.0,481.3 434.0,481.9 435.0,482.5 C436.0,483.1 437.0,483.7 438.0,484.3 C439.0,484.8 440.0,485.4 441.0,486.0 C442.0,486.6 443.0,487.1 444.0,487.7 C445.0,488.3 446.0,488.8 447.0,489.4 C448.0,490.0 449.0,490.6 450.0,491.1 C451.0,491.7 452.0,492.3 453.0,492.9 C454.0,493.5 455.0,494.1 456.0,494.6 C457.0,495.2 458.0,495.8 459.0,496.4 C460.0,497.0 461.0,497.6 462.0,498.2 C463.0,498.9 464.0,499.5 465.0,500.1 C466.0,500.7 467.0,501.3 468.0,501.9 C469.0,502.6 470.0,503.2 471.0,503.8 C472.0,504.4 473.0,505.1 474.0,505.7 C475.0,506.3 476.0,506.9 477.0,507.6 C478.0,508.2 479.0,508.8 480.0,509.4 C481.0,510.1 482.0,510.7 483.0,511.3 C484.0,511.9 485.0,512.6 486.0,513.2 C487.0,513.8 488.0,514.4 489.0,515.1 C490.0,515.7 491.0,516.3 492.0,516.9 C493.0,517.5 494.0,518.1 495.0,518.7 C496.0,519.3 497.0,519.9 498.0,520.5 C499.0,521.1 500.0,521.6 501.0,522.2 C502.0,522.8 503.0,523.3 504.0,523.8 C505.0,524.4 506.0,524.9 507.0,525.5 C508.0,526.0 509.0,526.5 510.0,527.0 C511.0,527.5 512.0,528.0 513.0,528.6 C514.0,529.1 515.0,529.6 516.0,530.1 C517.0,530.6 518.0,531.1 519.0,531.6 C520.0,532.1 521.0,532.6 522.0,533.1 C523.0,533.6 524.0,534.1 525.0,534.6 C526.0,535.1 527.0,535.6 528.0,536.1 C529.0,536.6 530.0,537.1 531.0,537.6 C532.0,538.1 533.0,538.6 534.0,539.1 C535.0,539.6 536.0,540.1 537.0,540.6 C538.0,541.1 539.0,541.6 540.0,542.1 C541.0,542.6 542.0,543.1 543.0,543.6 C544.0,544.1 545.0,544.6 546.0,545.1 C547.0,545.6 548.0,546.1 549.0,546.6 C550.0,547.1 551.0,547.6 552.0,548.1 C553.0,548.6 554.0,549.1 555.0,549.6 C556.0,550.1 557.0,550.6 558.0,551.1 C559.0,551.6 560.0,552.1 561.0,552.6 C562.0,553.1 563.0,553.6 564.0,554.1 C565.0,554.6 566.0,555.1 567.0,555.6 C568.0,556.1 569.0,556.6 570.0,557.1 C571.0,557.6 572.0,558.1 573.0,558.6 C574.0,559.1 575.0,559.5 576.0,560.0 C577.0,560.5 578.0,561.0 579.0,561.5 C580.0,562.0 581.0,562.4 582.0,562.9 C583.0,563.4 584.0,563.8 585.0,564.3 C586.0,564.8 587.0,565.2 588.0,565.7 C589.0,566.1 590.0,566.6 591.0,567.0 C592.0,567.5 593.0,568.0 594.0,568.4 C595.0,568.9 596.0,569.3 597.0,569.8 C598.0,570.2 599.0,570.7 600.0,571.1 C601.0,571.6 602.0,572.0 603.0,572.5 C604.0,572.9 605.0,573.4 606.0,573.8 C607.0,574.3 608.0,574.7 609.0,575.1 C610.0,575.6 611.0,576.0 612.0,576.5 C613.0,576.9 614.0,577.4 615.0,577.8 C616.0,578.3 617.0,578.7 618.0,579.2 C619.0,579.6 620.0,580.0 621.0,580.5 C622.0,580.9 623.0,581.4 624.0,581.8 C625.0,582.2 626.0,582.7 627.0,583.1 C628.0,583.5 629.0,584.0 630.0,584.4 C631.0,584.8 632.0,585.3 633.0,585.7 C634.0,586.1 635.0,586.6 636.0,587.0 C637.0,587.4 638.0,587.9 639.0,588.3 C640.0,588.7 641.0,589.2 642.0,589.6 C643.0,590.0 644.0,590.5 645.0,590.9 C646.0,591.3 647.0,591.8 648.0,592.2 C649.0,592.6 650.0,593.1 651.0,593.5 C652.0,593.9 653.0,594.4 654.0,594.8 C655.0,595.2 656.0,595.7 657.0,596.1 C658.0,596.5 659.0,597.0 660.0,597.4 C661.0,597.8 662.0,598.3 663.0,598.7 C664.0,599.1 665.0,599.6 666.0,600.0 C667.0,600.4 668.0,600.8 669.0,601.3 C670.0,601.7 671.0,602.1 672.0,602.5 C673.0,603.0 674.0,603.4 675.0,603.8 C676.0,604.2 677.0,604.6 678.0,605.0 C679.0,605.4 680.0,605.8 681.0,606.2 C682.0,606.6 683.0,607.0 684.0,607.4 C685.0,607.8 686.0,608.2 687.0,608.6 C688.0,608.9 689.0,609.3 690.0,609.7 C691.0,610.1 692.0,610.4 693.0,610.8 C694.0,611.2 695.0,611.5 696.0,611.9 C697.0,612.3 698.0,612.6 699.0,613.0 C700.0,613.3 701.0,613.7 702.0,614.1 C703.0,614.4 704.0,614.8 705.0,615.1 C706.0,615.5 707.0,615.8 708.0,616.2 C709.0,616.5 710.0,616.8 711.0,617.2 C712.0,617.5 713.0,617.8 714.0,618.1 C715.0,618.5 716.0,618.8 717.0,619.1 C718.0,619.4 719.0,619.7 720.0,620.0 C721.0,620.3 722.0,620.6 723.0,620.9 C724.0,621.2 725.0,621.5 726.0,621.8 C727.0,622.1 728.0,622.4 729.0,622.7 C730.0,623.0 731.0,623.3 732.0,623.6 C733.0,623.9 734.0,624.2 735.0,624.5 C736.0,624.8 737.0,625.1 738.0,625.4 C739.0,625.7 740.0,625.9 741.0,626.2 C742.0,626.5 743.0,626.8 744.0,627.1 C745.0,627.3 746.0,627.6 747.0,627.9 C748.0,628.1 749.0,628.4 750.0,628.7 C751.0,629.0 752.0,629.2 753.0,629.5 C754.0,629.8 755.0,630.0 756.0,630.3 C757.0,630.6 758.0,630.8 759.0,631.1 C760.0,631.4 761.0,631.6 762.0,631.9 C763.0,632.2 764.0,632.4 765.0,632.7 C766.0,633.0 767.0,633.2 768.0,633.5 C769.0,633.8 770.0,634.0 771.0,634.3 C772.0,634.6 773.0,634.8 774.0,635.1 C775.0,635.4 776.0,635.6 777.0,635.9 C778.0,636.2 779.0,636.4 780.0,636.7 C781.0,637.0 782.0,637.2 783.0,637.5 C784.0,637.7 785.0,638.0 786.0,638.3 C787.0,638.5 788.0,638.8 789.0,639.1 C790.0,639.3 791.0,639.6 792.0,639.8 C793.0,640.1 794.0,640.4 795.0,640.6 C796.0,640.9 797.0,641.1 798.0,641.3 C799.0,641.6 800.0,641.8 801.0,642.0 C802.0,642.3 803.0,642.5 804.0,642.7 C805.0,642.9 806.0,643.2 807.0,643.4 C808.0,643.6 809.0,643.8 810.0,644.0 C811.0,644.2 812.0,644.4 813.0,644.6 C814.0,644.8 815.0,645.0 816.0,645.2 C817.0,645.4 818.0,645.6 819.0,645.8 C820.0,646.0 821.0,646.2 822.0,646.4 C823.0,646.6 824.0,646.8 825.0,647.0 C826.0,647.2 827.0,647.4 828.0,647.6 C829.0,647.8 830.0,648.0 831.0,648.2 C832.0,648.4 833.0,648.6 834.0,648.8 C835.0,649.0 836.0,649.2 837.0,649.4 C838.0,649.7 839.0,649.9 840.0,650.1 C841.0,650.3 842.0,650.5 843.0,650.7 C844.0,650.9 845.0,651.1 846.0,651.3 C847.0,651.6 848.0,651.8 849.0,652.0 C850.0,652.2 851.0,652.4 852.0,652.6 C853.0,652.9 854.0,653.1 855.0,653.3 C856.0,653.5 857.0,653.8 858.0,654.0 C859.0,654.2 860.0,654.4 861.0,654.7 C862.0,654.9 863.0,655.1 864.0,655.3 C865.0,655.6 866.0,655.8 867.0,656.0 C868.0,656.2 869.0,656.5 870.0,656.7 C871.0,656.9 872.0,657.1 873.0,657.4 C874.0,657.6 875.0,657.8 876.0,658.0 C877.0,658.2 878.0,658.5 879.0,658.7 C880.0,658.9 881.0,659.1 882.0,659.4 C883.0,659.6 884.0,659.8 885.0,660.0 C886.0,660.2 887.0,660.5 888.0,660.7 C889.0,660.9 890.0,661.1 891.0,661.3 C892.0,661.5 893.0,661.7 894.0,661.9 C895.0,662.1 896.0,662.3 897.0,662.5 C898.0,662.7 899.0,662.9 900.0,663.0 C901.0,663.2 902.0,663.4 903.0,663.6 C904.0,663.7 905.0,663.9 906.0,664.0 C907.0,664.2 908.0,664.4 909.0,664.5 C910.0,664.7 911.0,664.8 912.0,665.0 C913.0,665.1 914.0,665.3 915.0,665.4 C916.0,665.6 917.0,665.7 918.0,665.9 C919.0,666.0 920.0,666.2 921.0,666.3 C922.0,666.5 923.0,666.6 924.0,666.8 C925.0,666.9 926.0,667.1 927.0,667.2 C928.0,667.4 929.0,667.5 930.0,667.7 C931.0,667.8 932.0,668.0 933.0,668.1 C934.0,668.3 935.0,668.4 936.0,668.6 C937.0,668.7 938.0,668.9 939.0,669.0 C940.0,669.2 941.0,669.3 942.0,669.5 C943.0,669.6 944.0,669.8 945.0,669.9 C946.0,670.1 947.0,670.2 948.0,670.4 C949.0,670.5 950.0,670.7 951.0,670.8 C952.0,671.0 953.0,671.1 954.0,671.3 C955.0,671.4 956.0,671.6 957.0,671.7 C958.0,671.9 959.0,672.0 960.0,672.2 C961.0,672.3 962.0,672.5 963.0,672.6 C964.0,672.8 965.0,672.9 966.0,673.1 C967.0,673.2 968.0,673.4 969.0,673.5 C970.0,673.7 971.0,673.8 972.0,674.0 C973.0,674.1 974.0,674.3 975.0,674.4 C976.0,674.6 977.0,674.7 978.0,674.9 C979.0,675.0 980.0,675.2 981.0,675.3 C982.0,675.5 983.0,675.6 984.0,675.8 C985.0,675.9 986.0,676.1 987.0,676.2 C988.0,676.4 989.0,676.5 990.0,676.7 C991.0,676.8 992.0,677.0 993.0,677.1 C994.0,677.3 995.0,677.5 996.0,677.6 C997.0,677.8 998.0,677.9 999.0,678.1 C1000.0,678.3 1001.0,678.5 1002.0,678.7 C1003.0,678.8 1004.0,679.0 1005.0,679.2 C1006.0,679.4 1007.0,679.6 1008.0,679.8 C1009.0,680.0 1010.0,680.2 1011.0,680.4 C1012.0,680.6 1013.0,680.9 1014.0,681.1 C1015.0,681.3 1016.0,681.5 1017.0,681.7 C1018.0,682.0 1019.0,682.2 1020.0,682.4 C1021.0,682.6 1022.0,682.9 1023.0,683.1 C1024.0,683.3 1025.0,683.5 1026.0,683.8 C1027.0,684.0 1028.0,684.2 1029.0,684.5 C1030.0,684.7 1031.0,684.9 1032.0,685.1 C1033.0,685.4 1034.0,685.6 1035.0,685.8 C1036.0,686.0 1037.0,686.3 1038.0,686.5 C1039.0,686.7 1040.0,686.9 1041.0,687.2 C1042.0,687.4 1043.0,687.6 1044.0,687.8 C1045.0,688.1 1046.0,688.3 1047.0,688.5 C1048.0,688.7 1049.0,688.9 1050.0,689.1 C1051.0,689.3 1052.0,689.5 1053.0,689.7 C1054.0,689.9 1055.0,690.1 1056.0,690.3 C1057.0,690.5 1058.0,690.7 1059.0,690.8 C1060.0,691.0 1061.0,691.2 1062.0,691.3 C1063.0,691.5 1064.0,691.6 1065.0,691.8 C1066.0,691.9 1067.0,692.1 1068.0,692.2 C1069.0,692.4 1070.0,692.5 1071.0,692.6 C1072.0,692.8 1073.0,692.9 1074.0,693.0 C1075.0,693.2 1076.0,693.3 1077.0,693.4 C1078.0,693.6 1079.0,693.7 1080.0,693.8 C1081.0,694.0 1082.0,694.1 1083.0,694.2 C1084.0,694.4 1085.0,694.5 1086.0,694.6 C1087.0,694.8 1088.0,694.9 1089.0,695.1 C1090.0,695.2 1091.0,695.3 1092.0,695.5 C1093.0,695.6 1094.0,695.8 1095.0,695.9 C1096.0,696.1 1097.0,696.2 1098.0,696.4 C1099.0,696.5 1100.0,696.7 1101.0,696.8 C1102.0,697.0 1103.0,697.1 1104.0,697.3 C1105.0,697.5 1106.0,697.6 1107.0,697.8 C1108.0,698.0 1109.0,698.1 1110.0,698.3 C1111.0,698.5 1112.0,698.6 1113.0,698.8 C1114.0,698.9 1115.0,699.1 1116.0,699.3 C1117.0,699.4 1118.0,699.6 1119.0,699.7 C1120.0,699.9 1121.0,700.0 1122.0,700.2 C1123.0,700.3 1124.0,700.5 1125.0,700.6 C1126.0,700.8 1127.0,700.9 1128.0,701.1 C1129.0,701.2 1130.0,701.3 1131.0,701.5 C1132.0,701.6 1133.0,701.7 1134.0,701.9 C1135.0,702.0 1136.0,702.1 1137.0,702.3 C1138.0,702.4 1139.0,702.5 1140.0,702.7 C1141.0,702.8 1142.0,702.9 1143.0,703.1 C1144.0,703.2 1145.0,703.3 1146.0,703.5 C1147.0,703.6 1148.0,703.7 1149.0,703.8 C1150.0,704.0 1151.0,704.1 1152.0,704.2 C1153.0,704.3 1154.0,704.5 1155.0,704.6 C1156.0,704.7 1154.3,704.5 1158.0,705.0 C1161.7,705.4 1173.1,705.9 1176.9,707.1 C1180.7,708.3 1176.2,711.0 1181.0,712.2 C1185.8,713.4 1195.2,713.2 1205.4,714.2 C1215.6,715.2 1229.1,716.8 1242.0,718.3 C1254.9,719.8 1269.1,721.9 1282.7,723.4 C1296.3,724.9 1311.5,726.1 1323.4,727.5 C1335.3,728.9 1345.4,730.1 1353.9,731.5 C1362.4,732.9 1365.1,734.6 1374.2,735.6 C1383.3,736.6 1402.0,737.5 1408.8,737.6 C1415.6,737.7 1414.0,736.3 1415.0,736.0" stroke="#0070C8"/>
<path d="M128.0,435.0 C128.5,437.0 129.8,442.8 131.0,447.0 C132.2,451.2 133.2,455.0 135.0,460.0 C136.8,465.0 139.5,472.0 141.7,477.0 C143.9,482.0 145.6,486.7 148.4,490.0 C151.2,493.3 155.5,495.7 158.4,497.0 C161.3,498.3 164.1,497.8 166.0,497.8 C167.9,497.9 168.7,497.6 170.0,497.3 C171.3,497.0 172.3,496.8 174.0,496.2 C175.7,495.6 178.2,494.7 180.0,493.7 C181.8,492.7 183.3,491.4 185.0,490.1 C186.7,488.8 188.3,487.5 190.0,486.0 C191.7,484.5 193.3,482.9 195.0,480.9 C196.7,478.9 197.9,477.5 200.0,474.0 C202.1,470.5 205.0,464.4 207.5,460.0 C210.0,455.6 212.6,451.5 215.0,447.3 C217.4,443.1 219.7,439.0 222.0,435.0 C224.3,431.0 226.7,427.3 229.0,423.5 C231.3,419.7 233.7,415.9 236.0,412.0 C238.3,408.1 240.7,403.8 243.0,400.0 C245.3,396.2 247.7,391.9 250.0,389.0 C252.3,386.1 255.0,384.1 257.0,382.5 C259.0,380.9 259.8,380.8 262.0,379.5 C264.2,378.2 267.5,375.5 270.0,374.5 C272.5,373.5 274.8,373.6 277.0,373.5 C279.2,373.4 281.2,373.5 283.4,374.0 C285.6,374.5 287.9,375.4 290.1,376.5 C292.3,377.6 295.2,379.5 296.8,380.6 C298.4,381.7 299.0,382.2 300.0,383.1 C301.0,384.0 302.0,385.1 303.0,386.0 C304.0,387.0 305.0,387.9 306.0,388.9 C307.0,389.8 308.0,390.6 309.0,391.5 C310.0,392.4 311.0,393.3 312.0,394.2 C313.0,395.1 314.0,396.0 315.0,396.9 C316.0,397.8 317.0,398.8 318.0,399.8 C319.0,400.8 320.0,401.8 321.0,402.8 C322.0,403.8 323.0,404.9 324.0,405.9 C325.0,407.0 326.0,408.0 327.0,409.1 C328.0,410.2 329.0,411.3 330.0,412.4 C331.0,413.5 332.0,414.6 333.0,415.7 C334.0,416.7 335.0,417.8 336.0,418.9 C337.0,420.0 338.0,421.1 339.0,422.1 C340.0,423.2 341.0,424.2 342.0,425.3 C343.0,426.3 344.0,427.4 345.0,428.4 C346.0,429.4 347.0,430.4 348.0,431.4 C349.0,432.4 350.0,433.4 351.0,434.4 C352.0,435.4 353.0,436.4 354.0,437.3 C355.0,438.3 356.0,439.2 357.0,440.1 C358.0,441.1 359.0,442.0 360.0,442.9 C361.0,443.8 362.0,444.7 363.0,445.6 C364.0,446.4 365.0,447.3 366.0,448.2 C367.0,449.0 368.0,449.9 369.0,450.7 C370.0,451.5 371.0,452.4 372.0,453.2 C373.0,454.1 374.0,454.9 375.0,455.8 C376.0,456.6 377.0,457.5 378.0,458.3 C379.0,459.2 380.0,460.1 381.0,461.0 C382.0,461.9 383.0,462.9 384.0,463.8 C385.0,464.7 386.0,465.7 387.0,466.6 C388.0,467.5 389.0,468.5 390.0,469.4 C391.0,470.3 392.0,471.3 393.0,472.2 C394.0,473.1 395.0,474.1 396.0,475.0 C397.0,475.9 398.0,476.8 399.0,477.7 C400.0,478.6 401.0,479.5 402.0,480.4 C403.0,481.3 404.0,482.2 405.0,483.0 C406.0,483.9 407.0,484.8 408.0,485.7 C409.0,486.5 410.0,487.4 411.0,488.2 C412.0,489.0 413.0,489.9 414.0,490.7 C415.0,491.5 416.0,492.2 417.0,493.0 C418.0,493.7 419.0,494.4 420.0,495.1 C421.0,495.9 422.0,496.5 423.0,497.2 C424.0,497.9 425.0,498.5 426.0,499.1 C427.0,499.8 428.0,500.4 429.0,501.0 C430.0,501.7 431.0,502.3 432.0,502.9 C433.0,503.5 434.0,504.1 435.0,504.7 C436.0,505.4 437.0,506.0 438.0,506.6 C439.0,507.3 440.0,507.9 441.0,508.5 C442.0,509.2 443.0,509.9 444.0,510.5 C445.0,511.2 446.0,511.9 447.0,512.5 C448.0,513.2 449.0,513.9 450.0,514.6 C451.0,515.3 452.0,516.0 453.0,516.7 C454.0,517.4 455.0,518.1 456.0,518.9 C457.0,519.6 458.0,520.3 459.0,521.0 C460.0,521.8 461.0,522.5 462.0,523.2 C463.0,524.0 464.0,524.7 465.0,525.4 C466.0,526.1 467.0,526.9 468.0,527.6 C469.0,528.3 470.0,529.0 471.0,529.7 C472.0,530.4 473.0,531.1 474.0,531.8 C475.0,532.5 476.0,533.1 477.0,533.8 C478.0,534.5 479.0,535.1 480.0,535.7 C481.0,536.4 482.0,537.0 483.0,537.6 C484.0,538.2 485.0,538.8 486.0,539.4 C487.0,540.0 488.0,540.5 489.0,541.1 C490.0,541.6 491.0,542.2 492.0,542.7 C493.0,543.2 494.0,543.8 495.0,544.3 C496.0,544.8 497.0,545.3 498.0,545.9 C499.0,546.4 500.0,546.9 501.0,547.4 C502.0,547.9 503.0,548.4 504.0,548.9 C505.0,549.4 506.0,549.9 507.0,550.4 C508.0,551.0 509.0,551.5 510.0,552.0 C511.0,552.5 512.0,553.0 513.0,553.5 C514.0,554.1 515.0,554.6 516.0,555.1 C517.0,555.7 518.0,556.2 519.0,556.7 C520.0,557.3 521.0,557.8 522.0,558.3 C523.0,558.9 524.0,559.4 525.0,559.9 C526.0,560.4 527.0,561.0 528.0,561.5 C529.0,562.0 530.0,562.5 531.0,563.1 C532.0,563.6 533.0,564.1 534.0,564.6 C535.0,565.1 536.0,565.6 537.0,566.1 C538.0,566.6 539.0,567.1 540.0,567.6 C541.0,568.1 542.0,568.5 543.0,569.0 C544.0,569.5 545.0,570.0 546.0,570.4 C547.0,570.9 548.0,571.3 549.0,571.8 C550.0,572.3 551.0,572.7 552.0,573.2 C553.0,573.6 554.0,574.0 555.0,574.5 C556.0,574.9 557.0,575.3 558.0,575.8 C559.0,576.2 560.0,576.6 561.0,577.0 C562.0,577.4 563.0,577.8 564.0,578.2 C565.0,578.6 566.0,579.0 567.0,579.4 C568.0,579.8 569.0,580.2 570.0,580.6 C571.0,581.0 572.0,581.3 573.0,581.7 C574.0,582.1 575.0,582.5 576.0,582.8 C577.0,583.2 578.0,583.6 579.0,584.0 C580.0,584.4 581.0,584.7 582.0,585.1 C583.0,585.5 584.0,585.9 585.0,586.3 C586.0,586.6 587.0,587.0 588.0,587.4 C589.0,587.8 590.0,588.2 591.0,588.6 C592.0,589.0 593.0,589.3 594.0,589.7 C595.0,590.1 596.0,590.5 597.0,590.9 C598.0,591.3 599.0,591.7 600.0,592.1 C601.0,592.5 602.0,592.9 603.0,593.3 C604.0,593.7 605.0,594.1 606.0,594.5 C607.0,594.9 608.0,595.3 609.0,595.7 C610.0,596.1 611.0,596.5 612.0,596.9 C613.0,597.3 614.0,597.7 615.0,598.1 C616.0,598.5 617.0,598.9 618.0,599.3 C619.0,599.7 620.0,600.1 621.0,600.5 C622.0,600.9 623.0,601.3 624.0,601.7 C625.0,602.1 626.0,602.5 627.0,602.9 C628.0,603.3 629.0,603.7 630.0,604.1 C631.0,604.5 632.0,604.9 633.0,605.3 C634.0,605.7 635.0,606.1 636.0,606.5 C637.0,606.9 638.0,607.3 639.0,607.7 C640.0,608.0 641.0,608.4 642.0,608.8 C643.0,609.2 644.0,609.6 645.0,610.0 C646.0,610.4 647.0,610.7 648.0,611.1 C649.0,611.5 650.0,611.9 651.0,612.2 C652.0,612.6 653.0,612.9 654.0,613.3 C655.0,613.6 656.0,614.0 657.0,614.3 C658.0,614.7 659.0,615.0 660.0,615.4 C661.0,615.7 662.0,616.0 663.0,616.4 C664.0,616.7 665.0,617.1 666.0,617.4 C667.0,617.7 668.0,618.0 669.0,618.4 C670.0,618.7 671.0,619.0 672.0,619.4 C673.0,619.7 674.0,620.0 675.0,620.3 C676.0,620.6 677.0,620.9 678.0,621.2 C679.0,621.6 680.0,621.9 681.0,622.2 C682.0,622.4 683.0,622.7 684.0,623.0 C685.0,623.3 686.0,623.6 687.0,623.9 C688.0,624.2 689.0,624.4 690.0,624.7 C691.0,625.0 692.0,625.2 693.0,625.5 C694.0,625.8 695.0,626.1 696.0,626.3 C697.0,626.6 698.0,626.8 699.0,627.1 C700.0,627.4 701.0,627.6 702.0,627.9 C703.0,628.2 704.0,628.4 705.0,628.7 C706.0,628.9 707.0,629.2 708.0,629.4 C709.0,629.7 710.0,629.9 711.0,630.2 C712.0,630.4 713.0,630.7 714.0,630.9 C715.0,631.2 716.0,631.4 717.0,631.7 C718.0,631.9 719.0,632.1 720.0,632.4 C721.0,632.6 722.0,632.8 723.0,633.1 C724.0,633.3 725.0,633.6 726.0,633.8 C727.0,634.0 728.0,634.3 729.0,634.5 C730.0,634.7 731.0,635.0 732.0,635.2 C733.0,635.4 734.0,635.7 735.0,635.9 C736.0,636.2 737.0,636.4 738.0,636.7 C739.0,636.9 740.0,637.2 741.0,637.4 C742.0,637.7 743.0,637.9 744.0,638.2 C745.0,638.4 746.0,638.7 747.0,638.9 C748.0,639.2 749.0,639.5 750.0,639.7 C751.0,640.0 752.0,640.2 753.0,640.5 C754.0,640.8 755.0,641.0 756.0,641.3 C757.0,641.6 758.0,641.8 759.0,642.1 C760.0,642.3 761.0,642.6 762.0,642.9 C763.0,643.1 764.0,643.4 765.0,643.6 C766.0,643.9 767.0,644.1 768.0,644.4 C769.0,644.6 770.0,644.8 771.0,645.1 C772.0,645.3 773.0,645.5 774.0,645.7 C775.0,646.0 776.0,646.2 777.0,646.4 C778.0,646.6 779.0,646.8 780.0,647.0 C781.0,647.3 782.0,647.5 783.0,647.7 C784.0,647.9 785.0,648.1 786.0,648.3 C787.0,648.5 788.0,648.7 789.0,648.9 C790.0,649.1 791.0,649.3 792.0,649.5 C793.0,649.7 794.0,649.9 795.0,650.0 C796.0,650.2 797.0,650.4 798.0,650.6 C799.0,650.8 800.0,651.0 801.0,651.1 C802.0,651.3 803.0,651.5 804.0,651.6 C805.0,651.8 806.0,652.0 807.0,652.1 C808.0,652.3 809.0,652.4 810.0,652.6 C811.0,652.7 812.0,652.9 813.0,653.0 C814.0,653.2 815.0,653.3 816.0,653.5 C817.0,653.6 818.0,653.7 819.0,653.9 C820.0,654.0 821.0,654.2 822.0,654.3 C823.0,654.5 824.0,654.6 825.0,654.8 C826.0,654.9 827.0,655.0 828.0,655.2 C829.0,655.3 830.0,655.5 831.0,655.6 C832.0,655.8 833.0,655.9 834.0,656.1 C835.0,656.2 836.0,656.4 837.0,656.5 C838.0,656.7 839.0,656.8 840.0,657.0 C841.0,657.2 842.0,657.3 843.0,657.5 C844.0,657.7 845.0,657.9 846.0,658.0 C847.0,658.2 848.0,658.4 849.0,658.6 C850.0,658.8 851.0,659.0 852.0,659.2 C853.0,659.3 854.0,659.5 855.0,659.7 C856.0,659.9 857.0,660.1 858.0,660.3 C859.0,660.5 860.0,660.7 861.0,660.9 C862.0,661.1 863.0,661.3 864.0,661.5 C865.0,661.7 866.0,661.9 867.0,662.1 C868.0,662.3 869.0,662.5 870.0,662.7 C871.0,662.9 872.0,663.1 873.0,663.3 C874.0,663.5 875.0,663.7 876.0,663.9 C877.0,664.1 878.0,664.3 879.0,664.5 C880.0,664.7 881.0,664.9 882.0,665.1 C883.0,665.3 884.0,665.5 885.0,665.7 C886.0,665.9 887.0,666.1 888.0,666.3 C889.0,666.5 890.0,666.7 891.0,666.9 C892.0,667.1 893.0,667.3 894.0,667.4 C895.0,667.6 896.0,667.8 897.0,668.0 C898.0,668.1 899.0,668.3 900.0,668.5 C901.0,668.7 902.0,668.8 903.0,669.0 C904.0,669.1 905.0,669.3 906.0,669.5 C907.0,669.6 908.0,669.8 909.0,669.9 C910.0,670.1 911.0,670.2 912.0,670.4 C913.0,670.5 914.0,670.7 915.0,670.8 C916.0,671.0 917.0,671.1 918.0,671.3 C919.0,671.4 920.0,671.6 921.0,671.7 C922.0,671.9 923.0,672.0 924.0,672.2 C925.0,672.3 926.0,672.5 927.0,672.6 C928.0,672.8 929.0,672.9 930.0,673.1 C931.0,673.2 932.0,673.4 933.0,673.5 C934.0,673.7 935.0,673.8 936.0,674.0 C937.0,674.1 938.0,674.3 939.0,674.4 C940.0,674.6 941.0,674.7 942.0,674.9 C943.0,675.0 944.0,675.1 945.0,675.3 C946.0,675.4 947.0,675.6 948.0,675.7 C949.0,675.9 950.0,676.0 951.0,676.1 C952.0,676.3 953.0,676.4 954.0,676.5 C955.0,676.7 956.0,676.8 957.0,676.9 C958.0,677.1 959.0,677.2 960.0,677.3 C961.0,677.4 962.0,677.6 963.0,677.7 C964.0,677.8 965.0,678.0 966.0,678.1 C967.0,678.2 968.0,678.3 969.0,678.5 C970.0,678.6 971.0,678.7 972.0,678.8 C973.0,679.0 974.0,679.1 975.0,679.2 C976.0,679.3 977.0,679.5 978.0,679.6 C979.0,679.7 980.0,679.8 981.0,680.0 C982.0,680.1 983.0,680.2 984.0,680.3 C985.0,680.5 986.0,680.6 987.0,680.7 C988.0,680.8 989.0,681.0 990.0,681.1 C991.0,681.2 992.0,681.3 993.0,681.5 C994.0,681.6 995.0,681.7 996.0,681.8 C997.0,682.0 998.0,682.1 999.0,682.2 C1000.0,682.3 1001.0,682.5 1002.0,682.6 C1003.0,682.7 1004.0,682.8 1005.0,683.0 C1006.0,683.1 1007.0,683.2 1008.0,683.3 C1009.0,683.5 1010.0,683.6 1011.0,683.7 C1012.0,683.8 1013.0,684.0 1014.0,684.1 C1015.0,684.2 1016.0,684.3 1017.0,684.5 C1018.0,684.6 1019.0,684.7 1020.0,684.8 C1021.0,685.0 1022.0,685.1 1023.0,685.2 C1024.0,685.3 1025.0,685.4 1026.0,685.6 C1027.0,685.7 1028.0,685.8 1029.0,685.9 C1030.0,686.1 1031.0,686.2 1032.0,686.3 C1033.0,686.4 1034.0,686.6 1035.0,686.7 C1036.0,686.8 1037.0,686.9 1038.0,687.0 C1039.0,687.2 1040.0,687.3 1041.0,687.4 C1042.0,687.5 1043.0,687.7 1044.0,687.8 C1045.0,687.9 1046.0,688.0 1047.0,688.1 C1048.0,688.2 1049.0,688.4 1050.0,688.5 C1051.0,688.6 1052.0,688.7 1053.0,688.8 C1054.0,688.9 1055.0,689.0 1056.0,689.0 C1057.0,689.1 1058.0,689.2 1059.0,689.3 C1060.0,689.3 1061.0,689.4 1062.0,689.5 C1063.0,689.5 1064.0,689.6 1065.0,689.6 C1066.0,689.7 1067.0,689.7 1068.0,689.8 C1069.0,689.8 1070.0,689.8 1071.0,689.9 C1072.0,689.9 1073.0,690.0 1074.0,690.0 C1075.0,690.0 1076.0,690.1 1077.0,690.1 C1078.0,690.1 1079.0,690.2 1080.0,690.2 C1081.0,690.2 1082.0,690.3 1083.0,690.3 C1084.0,690.3 1085.0,690.4 1086.0,690.4 C1087.0,690.4 1088.0,690.5 1089.0,690.5 C1090.0,690.5 1091.0,690.5 1092.0,690.5 C1093.0,690.6 1094.0,690.6 1095.0,690.6 C1096.0,690.6 1097.0,690.6 1098.0,690.6 C1099.0,690.6 1100.0,690.6 1101.0,690.6 C1102.0,690.6 1103.0,690.6 1104.0,690.6 C1105.0,690.6 1106.0,690.6 1107.0,690.5 C1108.0,690.5 1109.0,690.5 1110.0,690.5 C1111.0,690.5 1112.0,690.4 1113.0,690.4 C1114.0,690.4 1115.0,690.4 1116.0,690.4 C1117.0,690.3 1118.0,690.3 1119.0,690.3 C1120.0,690.3 1121.0,690.2 1122.0,690.2 C1123.0,690.2 1124.0,690.2 1125.0,690.2 C1126.0,690.1 1127.0,690.1 1128.0,690.1 C1129.0,690.1 1130.0,690.1 1131.0,690.1 C1132.0,690.0 1133.0,690.0 1134.0,690.0 C1135.0,690.0 1136.0,690.0 1137.0,690.0 C1138.0,690.0 1139.0,690.0 1140.0,690.1 C1141.0,690.1 1142.0,690.1 1143.0,690.1 C1144.0,690.1 1145.0,690.2 1146.0,690.2 C1147.0,690.3 1148.0,690.3 1149.0,690.3 C1150.0,690.4 1151.0,690.4 1152.0,690.5 C1153.0,690.5 1154.0,690.6 1155.0,690.7 C1156.0,690.7 1154.3,690.6 1158.0,690.8 C1161.7,691.0 1168.0,690.5 1176.9,691.9 C1185.8,693.3 1200.7,697.0 1211.5,699.0 C1222.3,701.0 1230.1,703.4 1242.0,704.1 C1253.9,704.8 1270.8,702.5 1282.7,703.0 C1294.6,703.5 1303.0,705.9 1313.2,707.1 C1323.4,708.3 1329.8,709.4 1343.7,710.2 C1357.6,711.1 1384.7,712.4 1396.6,712.2 C1408.5,712.0 1411.9,709.6 1415.0,709.1" stroke="#00B04C"/>
</g>
<g font-family="Liberation Sans, sans-serif" font-size="63.8" fill="#000" stroke="#fff" stroke-width="1.0">
<text transform="translate(128.00,1412.8) scale(1,1.025)" x="0" y="0" text-anchor="middle">200</text>
<text transform="translate(342.60,1412.8) scale(1,1.025)" x="0" y="0" text-anchor="middle">300</text>
<text transform="translate(557.20,1412.8) scale(1,1.025)" x="0" y="0" text-anchor="middle">400</text>
<text transform="translate(771.80,1412.8) scale(1,1.025)" x="0" y="0" text-anchor="middle">500</text>
<text transform="translate(986.40,1412.8) scale(1,1.025)" x="0" y="0" text-anchor="middle">600</text>
<text transform="translate(1201.00,1412.8) scale(1,1.025)" x="0" y="0" text-anchor="middle">700</text>
<text transform="translate(1415.60,1412.8) scale(1,1.025)" x="0" y="0" text-anchor="middle">800</text>
</g>
<g font-family="Liberation Serif, serif" font-size="70" fill="#000">
<line x1="853.5" y1="118.3" x2="993" y2="118.3" stroke="#E05300" stroke-width="6.5" stroke-linecap="butt"/>
<text x="1003" y="141.9">GO</text>
<line x1="853.5" y1="213.9" x2="993" y2="213.9" stroke="#7321A6" stroke-width="6.5" stroke-linecap="butt"/>
<text x="1003" y="237.5">rGO (25 °C)</text>
<line x1="853.5" y1="309.2" x2="993" y2="309.2" stroke="#000000" stroke-width="6.5" stroke-linecap="butt"/>
<text x="1003" y="332.8">rGO (40 °C)</text>
<line x1="853.5" y1="404.5" x2="993" y2="404.5" stroke="#0070C8" stroke-width="6.5" stroke-linecap="butt"/>
<text x="1003" y="428.1">rGO (60 °C)</text>
<line x1="853.5" y1="500.6" x2="993" y2="500.6" stroke="#00B04C" stroke-width="6.5" stroke-linecap="butt"/>
<text x="1003" y="524.2">rGO (80 °C)</text>
</g>
<text x="495.9" y="1515.8" font-family="Liberation Serif, serif" font-weight="bold" font-size="83.5" fill="#000">Wavelength (nm)</text>
<text transform="translate(97.3,990.4) rotate(-90)" x="0" y="0" font-family="Liberation Serif, serif" font-weight="bold" font-size="83.5" fill="#000">Absorbance (a.u.)</text>
</svg>
</body></html>
